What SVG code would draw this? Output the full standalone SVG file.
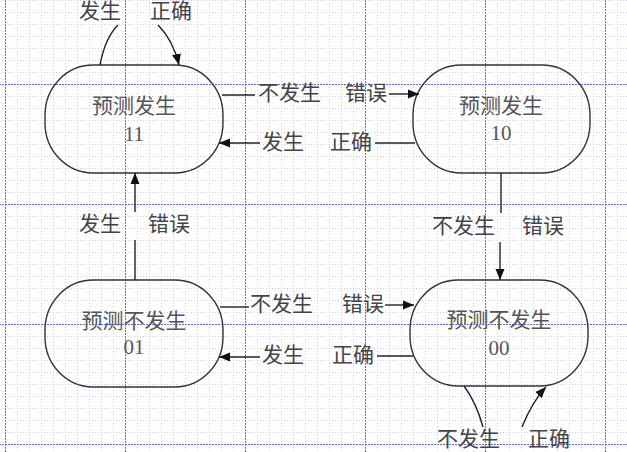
<svg xmlns="http://www.w3.org/2000/svg" width="627" height="452" viewBox="0 0 627 452">
<defs>
<pattern id="minor" patternUnits="userSpaceOnUse" x="5" y="0" width="12" height="12">
<path d="M0.5,0V12M0,0.5H12" stroke="#c8c8f4" stroke-width="1" stroke-dasharray="1,2" fill="none"/>
</pattern>
<pattern id="major" patternUnits="userSpaceOnUse" x="5" y="84" width="120" height="120">
<path d="M0.5,0V120M0,0.5H120" stroke="#6464e4" stroke-width="1" stroke-dasharray="2,1" fill="none"/>
</pattern>
<marker id="arr" markerUnits="userSpaceOnUse" markerWidth="12" markerHeight="10" refX="11" refY="5" orient="auto">
<path d="M0,0.5L11,5L0,9.5Z" fill="#111"/>
</marker>
<style>
.node{fill:none;stroke:#333;stroke-width:1.4}
.nt{font-family:"Liberation Serif","Noto Sans CJK SC",serif;font-size:21px;fill:#555;text-anchor:middle}
.nn{font-family:"Liberation Serif","Noto Sans CJK SC",serif;font-size:21px;fill:#555;text-anchor:middle}
.lb{font-family:"Liberation Serif","Noto Sans CJK SC",serif;font-size:21px;fill:#444}
.c{fill:none;stroke:#222;stroke-width:1.4}
.a{marker-end:url(#arr)}
</style>
</defs>
<rect width="627" height="452" fill="#fff"/>
<rect width="627" height="452" fill="url(#minor)"/>
<rect width="627" height="452" fill="url(#major)"/>

<g id="node-11">
<rect class="node" x="45" y="65" width="178" height="108" rx="48" ry="50"/>
<text class="nt" x="134" y="113">预测发生</text>
<text class="nn" x="134" y="141">11</text>
</g>
<g id="node-10">
<rect class="node" x="413" y="65" width="177" height="108" rx="48" ry="50"/>
<text class="nt" x="501" y="113">预测发生</text>
<text class="nn" x="501" y="140">10</text>
</g>
<g id="node-01">
<rect class="node" x="45" y="280" width="178" height="107" rx="48" ry="50"/>
<text class="nt" x="134" y="328">预测不发生</text>
<text class="nn" x="134" y="354">01</text>
</g>
<g id="node-00">
<rect class="node" x="410" y="280" width="178" height="106" rx="48" ry="50"/>
<text class="nt" x="499" y="327">预测不发生</text>
<text class="nn" x="499" y="355">00</text>
</g>

<g id="connectors">
<path class="c" d="M100,65Q105,38 118,25"/>
<path class="c a" d="M158,25Q173,40 179,65"/>
<text class="lb" x="79" y="18">发生</text>
<text class="lb" x="150" y="18">正确</text>
<path class="c" d="M222,95H255"/>
<path class="c a" d="M389,94H419"/>
<text class="lb" x="258" y="100">不发生</text>
<text class="lb" x="345" y="100">错误</text>
<path class="c" d="M415,143H375"/>
<path class="c a" d="M260,143H219"/>
<text class="lb" x="262" y="149">发生</text>
<text class="lb" x="330" y="149">正确</text>
<path class="c" d="M135,280V240"/>
<path class="c a" d="M135,212V173"/>
<text class="lb" x="79" y="231">发生</text>
<text class="lb" x="148" y="231">错误</text>
<path class="c" d="M501,173V213"/>
<path class="c a" d="M500,242V280"/>
<text class="lb" x="432" y="233">不发生</text>
<text class="lb" x="522" y="233">错误</text>
<path class="c" d="M220,307H249"/>
<path class="c a" d="M385,305H414"/>
<text class="lb" x="250" y="311">不发生</text>
<text class="lb" x="342" y="311">错误</text>
<path class="c" d="M413,356H377"/>
<path class="c a" d="M260,357H219"/>
<text class="lb" x="262" y="362">发生</text>
<text class="lb" x="332" y="362">正确</text>
<path class="c" d="M464,386Q476,402 483,427"/>
<path class="c a" d="M522,427Q532,402 546,387"/>
<text class="lb" x="437" y="446">不发生</text>
<text class="lb" x="528" y="446">正确</text>
</g>
</svg>
